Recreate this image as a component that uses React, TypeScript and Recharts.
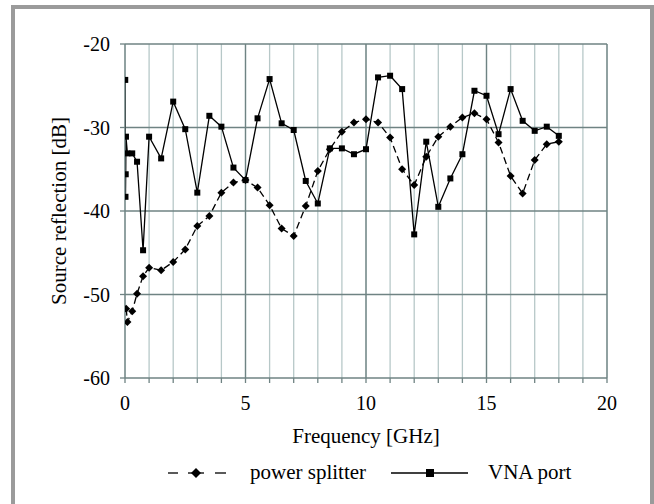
import React from 'react';
import { LineChart, Line, XAxis, YAxis, CartesianGrid, ReferenceLine, Legend } from 'recharts';

// ---- data ----
const freqSplitter = [0.05, 0.1, 0.3, 0.5, 0.75, 1.0, 1.5, 2.0, 2.5, 3.0, 3.5, 4.0, 4.5, 5.0, 5.5, 6.0, 6.5, 7.0, 7.5, 8.0, 8.5, 9.0, 9.5, 10.0, 10.5, 11.0, 11.5, 12.0, 12.5, 13.0, 13.5, 14.0, 14.5, 15.0, 15.5, 16.0, 16.5, 17.0, 17.5, 18.0];
const splitterDb = [-51.7, -53.3, -52.0, -49.9, -47.8, -46.8, -47.1, -46.1, -44.6, -41.8, -40.6, -37.8, -36.6, -36.3, -37.2, -39.3, -42.1, -43.0, -39.4, -35.2, -32.6, -30.5, -29.4, -29.0, -29.4, -31.2, -35.0, -36.9, -33.5, -31.1, -29.9, -28.8, -28.3, -29.0, -31.8, -35.8, -37.9, -33.9, -32.0, -31.7];

const freqVna = [0.01, 0.02, 0.03, 0.04, 0.1, 0.3, 0.5, 0.75, 1.0, 1.5, 2.0, 2.5, 3.0, 3.5, 4.0, 4.5, 5.0, 5.5, 6.0, 6.5, 7.0, 7.5, 8.0, 8.5, 9.0, 9.5, 10.0, 10.5, 11.0, 11.5, 12.0, 12.5, 13.0, 13.5, 14.0, 14.5, 15.0, 15.5, 16.0, 16.5, 17.0, 17.5, 18.0];
const vnaDb = [-24.3, -38.3, -35.6, -31.1, -33.1, -33.1, -34.1, -44.7, -31.1, -33.7, -26.9, -30.2, -37.8, -28.6, -29.9, -34.8, -36.3, -28.9, -24.2, -29.5, -30.3, -36.4, -39.1, -32.5, -32.5, -33.2, -32.6, -24.0, -23.8, -25.4, -42.8, -31.7, -39.5, -36.1, -33.2, -25.6, -26.2, -30.8, -25.4, -29.2, -30.4, -29.9, -31.0];

const xTicks = [0, 1, 2, 3, 4, 5, 6, 7, 8, 9, 10, 11, 12, 13, 14, 15, 16, 17, 18, 19, 20];
const xLabelTicks = [0, 5, 10, 15, 20];
const yTicks = [-60, -50, -40, -30, -20];
const majorX = [5, 10, 15, 20];
const majorY = [-50, -40, -30, -20];
const seriesNames = ['power splitter', 'VNA port'];

const splitterData = freqSplitter.map((f, i) => ({ f, v: splitterDb[i] }));
const vnaData = freqVna.map((f, i) => ({ f, v: vnaDb[i] }));

const FONT = '"Liberation Serif", "Times New Roman", serif';
const DARK = '#6f8383';
const LIGHT = '#b7c8c8';

const XTick = (props: any) => {
  const { x, y, payload } = props;
  if (!xLabelTicks.includes(payload.value)) return <g />;
  return (
    <text x={x} y={y} dy={14} textAnchor="middle" fontSize={20} fontFamily={FONT} fill="#000">
      {payload.value}
    </text>
  );
};

const YTick = (props: any) => {
  const { x, y, payload } = props;
  return (
    <text x={x} y={y} dy={7} textAnchor="end" fontSize={20} fontFamily={FONT} fill="#000">
      {payload.value}
    </text>
  );
};

const Diamond = (props: any) => {
  const { cx, cy, index } = props;
  if (cx == null || cy == null) return <g key={`d${index}`} />;
  const r = 4;
  return <path key={`d${index}`} d={`M${cx},${cy - r} L${cx + r},${cy} L${cx},${cy + r} L${cx - r},${cy} Z`} fill="#000" />;
};

const Square = (props: any) => {
  const { cx, cy, index } = props;
  if (cx == null || cy == null) return <g key={`s${index}`} />;
  const h = 3;
  return <rect key={`s${index}`} x={cx - h} y={cy - h} width={2 * h} height={2 * h} fill="#000" />;
};

const LegendContent = () => (
  <svg width={654} height={30} style={{ display: 'block' }}>
    <line x1={168} y1={14} x2={178} y2={14} stroke="#000" strokeWidth={1.3} />
    <line x1={188} y1={14} x2={204} y2={14} stroke="#000" strokeWidth={1.3} />
    <path d="M196,9 L201,14 L196,19 L191,14 Z" fill="#000" />
    <line x1={215} y1={14} x2={226} y2={14} stroke="#000" strokeWidth={1.3} />
    <text x={250} y={20} fontSize={21} fontFamily={FONT} fill="#000">{seriesNames[0]}</text>
    <line x1={391} y1={14} x2={468} y2={14} stroke="#000" strokeWidth={1.3} />
    <rect x={426} y={10} width={8} height={8} fill="#000" />
    <text x={488} y={20} fontSize={21} fontFamily={FONT} fill="#000">{seriesNames[1]}</text>
  </svg>
);

export default function App() {
  return (
    <div style={{ position: 'absolute', left: 0, top: 0, width: 654, height: 504, overflow: 'hidden', background: '#fff' }}>
      <div
        style={{
          position: 'absolute',
          left: 11,
          top: 5,
          width: 643,
          height: 520,
          boxSizing: 'border-box',
          border: '4px solid #9b9b9b',
        }}
      />
      <div style={{ position: 'absolute', left: 0, top: 0 }}>
        <LineChart width={654} height={504} margin={{ top: 44, right: 47, bottom: 66, left: 0 }}>
          <CartesianGrid horizontal={false} vertical={true} stroke={LIGHT} strokeWidth={1.3} />
          <XAxis
            type="number"
            dataKey="f"
            domain={[0, 20]}
            ticks={xTicks}
            interval={0}
            allowDataOverflow
            height={60}
            stroke={DARK}
            strokeWidth={1.3}
            tickSize={5}
            tickMargin={13}
            tick={<XTick />}
            label={{
              content: (p: any) => {
                const vb = p.viewBox || {};
                return (
                  <text x={vb.x + vb.width / 2} y={vb.y + 65} textAnchor="middle" fontSize={21} fontFamily={FONT} fill="#000">
                    Frequency [GHz]
                  </text>
                );
              },
            }}
          />
          <YAxis
            type="number"
            domain={[-60, -20]}
            ticks={yTicks}
            interval={0}
            allowDataOverflow
            width={125}
            stroke={DARK}
            strokeWidth={1.3}
            tickSize={5}
            tickMargin={10}
            tick={<YTick />}
            label={{
              content: (p: any) => {
                const vb = p.viewBox || {};
                const cx = 59;
                const cy = vb.y + vb.height / 2;
                return (
                  <text
                    x={cx}
                    y={cy}
                    transform={`rotate(-90, ${cx}, ${cy})`}
                    textAnchor="middle"
                    dominantBaseline="central"
                    fontSize={21}
                    fontFamily={FONT}
                    fill="#000"
                  >
                    Source reflection [dB]
                  </text>
                );
              },
            }}
          />
          {majorX.map((x) => (
            <ReferenceLine key={`mx${x}`} x={x} stroke={DARK} strokeWidth={1.3} />
          ))}
          {majorY.map((y) => (
            <ReferenceLine key={`my${y}`} y={y} stroke={DARK} strokeWidth={1.3} />
          ))}
          <Legend
            layout="horizontal"
            verticalAlign="middle"
            align="center"
            wrapperStyle={{ top: 459, left: 0, width: 654, height: 30 }}
            content={<LegendContent />}
          />
          <Line
            data={splitterData}
            dataKey="v"
            name={seriesNames[0]}
            stroke="#000"
            strokeWidth={1.3}
            strokeDasharray="7 4"
            dot={Diamond}
            activeDot={false}
            isAnimationActive={false}
          />
          <Line
            data={vnaData}
            dataKey="v"
            name={seriesNames[1]}
            stroke="#000"
            strokeWidth={1.3}
            dot={Square}
            activeDot={false}
            isAnimationActive={false}
          />
        </LineChart>
      </div>
    </div>
  );
}
